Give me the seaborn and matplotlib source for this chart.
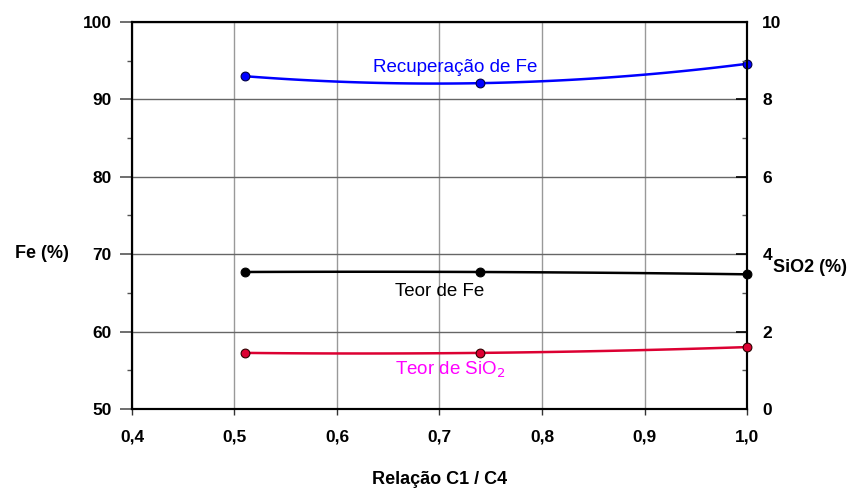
import numpy as np
import pandas as pd
import matplotlib
matplotlib.use("Agg")
import matplotlib.pyplot as plt
import seaborn as sns
from matplotlib.ticker import FixedLocator, FuncFormatter

sns.set_style("white")
plt.rcParams['font.family'] = ['Liberation Sans', 'DejaVu Sans']
plt.rcParams['text.color'] = 'black'
plt.rcParams['xtick.labelcolor'] = 'black'
plt.rcParams['ytick.labelcolor'] = 'black'

# data
relacao = [0.51, 0.74, 1.0]
recuperacao_fe = [93.0, 92.1, 94.6]
teor_fe = [67.7, 67.7, 67.4]
teor_sio2 = [1.45, 1.45, 1.6]

x_ticks = [0.4, 0.5, 0.6, 0.7, 0.8, 0.9, 1.0]
left_ticks = [50, 60, 70, 80, 90, 100]
right_ticks = [0, 2, 4, 6, 8, 10]

fig = plt.figure(figsize=(8.52, 4.9), dpi=100)
ax = fig.add_axes([132/852, 1-409/490, (747-132)/852, (409-22)/490])
ax2 = ax.twinx()

def smooth(xv, yv):
    c = np.polyfit(xv, yv, 2)
    xs = np.linspace(min(xv), max(xv), 120)
    return xs, np.polyval(c, xs)

xs, ys = smooth(relacao, recuperacao_fe)
sns.lineplot(x=xs, y=ys, ax=ax, color='#0000ff', lw=1.8)
sns.scatterplot(x=relacao, y=recuperacao_fe, ax=ax, color='#0000ff', s=40,
                edgecolor='#000044', linewidth=0.8, zorder=5, clip_on=False)

xs, ys = smooth(relacao, teor_fe)
sns.lineplot(x=xs, y=ys, ax=ax, color='black', lw=1.8)
sns.scatterplot(x=relacao, y=teor_fe, ax=ax, color='black', s=40,
                edgecolor='black', linewidth=0.8, zorder=5, clip_on=False)

xs, ys = smooth(relacao, teor_sio2)
sns.lineplot(x=xs, y=ys, ax=ax2, color='#dc0032', lw=1.8)
sns.scatterplot(x=relacao, y=teor_sio2, ax=ax2, color='#dc0032', s=40,
                edgecolor='#300000', linewidth=0.8, zorder=5, clip_on=False)

ax.set_xlim(0.4, 1.0)
ax.set_ylim(50, 100)
ax2.set_ylim(0, 10)

ax.set_xticks(x_ticks)
ax.set_yticks(left_ticks)
ax.yaxis.set_minor_locator(FixedLocator([55, 65, 75, 85, 95]))
ax2.set_yticks(right_ticks)
ax2.yaxis.set_minor_locator(FixedLocator([1, 3, 5, 7, 9]))
ax.xaxis.set_major_formatter(FuncFormatter(lambda v, p: f"{v:.1f}".replace('.', ',')))
ax.set_yticklabels([str(t) for t in left_ticks])
ax2.set_yticklabels([str(t) for t in right_ticks])

for a in (ax, ax2):
    for s in a.spines.values():
        s.set_color('black')
        s.set_linewidth(1.5)

ax.grid(True, axis='x', color='#999999', lw=1.0)
ax.grid(True, axis='y', color='#666666', lw=1.0)
ax.set_axisbelow(True)

ax.tick_params(axis='y', which='major', direction='out', length=8.5, width=1.2,
               color='#555555', pad=6, labelsize=12.5, left=True)
ax.tick_params(axis='y', which='minor', direction='out', length=3.5, width=1.0,
               color='#555555', left=True)
ax.tick_params(axis='x', which='major', direction='out', length=4, width=1.0,
               color='#333333', pad=11, labelsize=12.5, bottom=True)
ax2.tick_params(axis='y', which='major', direction='in', length=8, width=1.2,
                color='black', pad=11, labelsize=12.5, right=True)
ax2.tick_params(axis='y', which='minor', direction='in', length=3.5, width=1.0,
                color='#555555', right=True)
for lab in ax.get_xticklabels() + ax.get_yticklabels() + ax2.get_yticklabels():
    lab.set_fontweight('bold')

ax.set_xlabel("")
ax.set_ylabel("")
ax2.set_ylabel("")

fig.text(42/852, 1-253/490, "Fe (%)", fontsize=13, fontweight='bold',
         ha='center', va='center')
fig.text(810/852, 1-268/490, "SiO2 (%)", fontsize=13, fontweight='bold',
         ha='center', va='center')
fig.text(440/852, 1-479/490, "Relação C1 / C4", fontsize=13, fontweight='bold',
         ha='center', va='center')

ax.text(0.715, 94.1, "Recuperação de Fe", color='#0000ff', fontsize=13.5,
        ha='center', va='center')
ax.text(0.70, 65.2, "Teor de Fe", color='black', fontsize=13.5,
        ha='center', va='center')
ax.text(0.71, 55.0, "Teor de SiO$_2$", color='#ff00ff', fontsize=13.5,
        ha='center', va='center')

fig.savefig("out.png", dpi=100)
